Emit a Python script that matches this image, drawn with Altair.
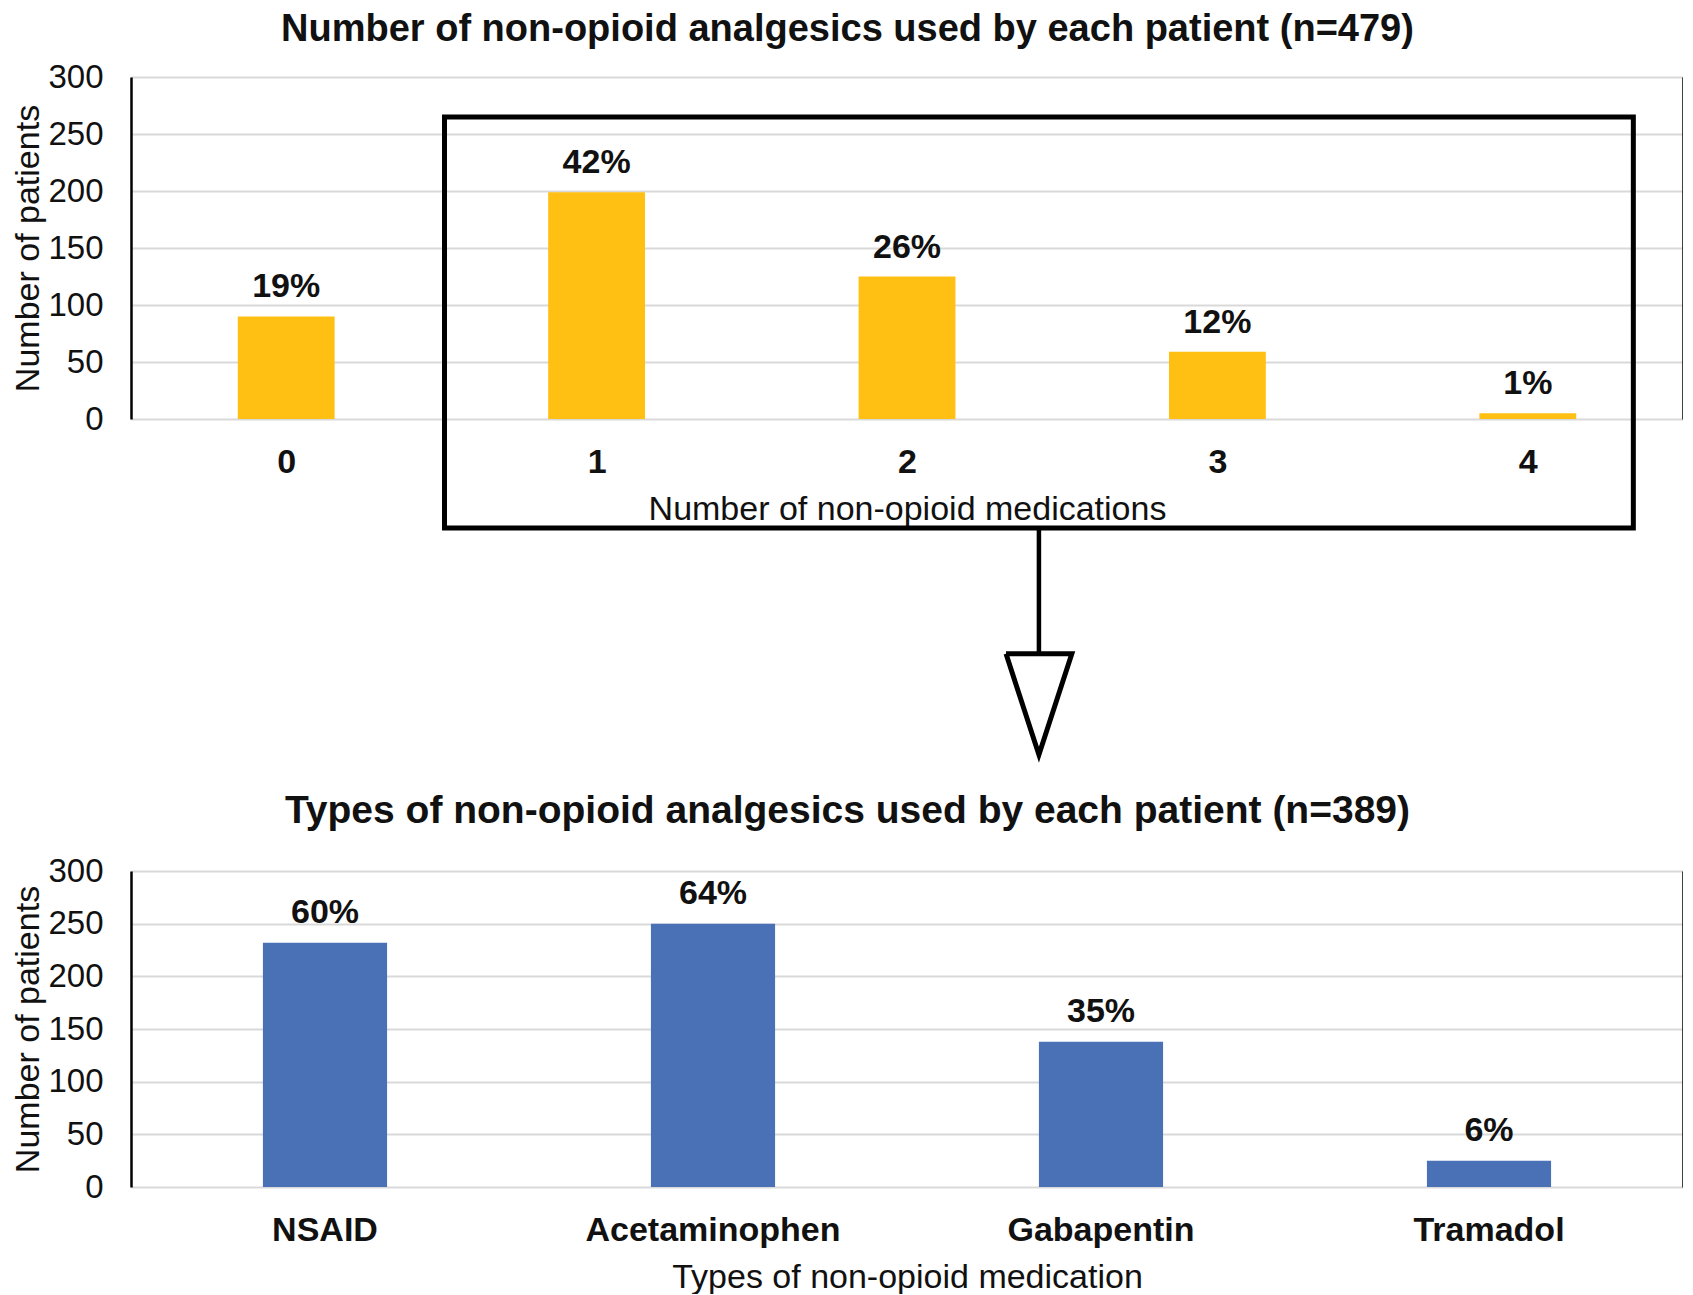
import altair as alt
import pandas as pd

# ---- data ----
top_cats = [0, 1, 2, 3, 4]
top_counts = [90, 199, 125, 59, 5]
top_pcts = ["19%", "42%", "26%", "12%", "1%"]

bottom_cats = ["NSAID", "Acetaminophen", "Gabapentin", "Tramadol"]
bottom_counts = [232, 250, 138, 25]
bottom_pcts = ["60%", "64%", "35%", "6%"]

top_title = "Number of non-opioid analgesics used by each patient (n=479)"
bottom_title = "Types of non-opioid analgesics used by each patient (n=389)"
y_title = "Number of patients"
top_x_title = "Number of non-opioid medications"
bottom_x_title = "Types of non-opioid medication"
y_ticks = [0, 50, 100, 150, 200, 250, 300]

# annotation (in data units of the top chart)
box_x = [0.51]
box_x2 = [4.34]
box_y = [265]
box_y2 = [-95.6]
arrow_x = [2.425, 2.425]
arrow_y = [-95.6, -206]
tri_x = [2.319, 2.531, 2.425, 2.319]
tri_y = [-206, -206, -294.5, -206]
tri_order = [0, 1, 2, 3]

FONT = "Liberation Sans"
W = 1552
TEXT = "#111111"

top_df = pd.DataFrame({"cat": top_cats, "count": top_counts, "pct": top_pcts})
bot_df = pd.DataFrame({"cat": bottom_cats, "count": bottom_counts, "pct": bottom_pcts})

yscale = alt.Scale(domain=[0, 300], nice=False, zero=False)
xscale_top = alt.Scale(domain=[-0.5, 4.5], nice=False, zero=False)

left_axis = alt.Axis(
    values=y_ticks, title=y_title, ticks=False, grid=True,
    gridColor="#d9d9d9", gridWidth=2, domain=True, domainColor="#000000",
    domainWidth=2.5, labelFontSize=33, labelColor=TEXT, labelPadding=28,
    titleFontSize=34, titleFontWeight="normal", titleColor=TEXT, titlePadding=2,
)
right_axis = alt.Axis(
    orient="right", labels=False, ticks=False, grid=False, domain=True,
    domainColor="#000000", domainWidth=2.5, title=None,
)

# ---------------- top chart ----------------
half = 0.156
bars_top = alt.Chart(top_df).transform_calculate(
    x1=f"datum.cat - {half}", x2=f"datum.cat + {half}"
).mark_bar(color="#FFC013").encode(
    x=alt.X("x1:Q", scale=xscale_top, axis=alt.Axis(
        values=top_cats, format="d", title=top_x_title, grid=False, ticks=False,
        domain=False, labelFontSize=34, labelFontWeight="bold", labelColor=TEXT,
        labelPadding=26, titleFontSize=34, titleFontWeight="normal",
        titleColor=TEXT, titlePadding=13, labelLimit=0)),
    x2="x2:Q",
    y=alt.Y("count:Q", scale=yscale, axis=left_axis),
    y2=alt.datum(0),
)
text_top = alt.Chart(top_df).mark_text(
    fontSize=34, fontWeight="bold", color=TEXT, baseline="alphabetic", dy=-19
).encode(
    x=alt.X("cat:Q", scale=xscale_top, axis=None),
    y=alt.Y("count:Q", scale=yscale, axis=right_axis),
    text="pct:N",
)
box = alt.Chart(pd.DataFrame({"x": box_x, "x2": box_x2, "y": box_y, "y2": box_y2})).mark_rect(
    filled=False, stroke="#000000", strokeWidth=5
).encode(
    x=alt.X("x:Q", scale=xscale_top, axis=None), x2="x2:Q",
    y=alt.Y("y:Q", scale=yscale, axis=None), y2="y2:Q",
)
arrow = alt.Chart(pd.DataFrame({"x": arrow_x, "y": arrow_y})).mark_line(
    color="#000000", strokeWidth=4.5
).encode(
    x=alt.X("x:Q", scale=xscale_top, axis=None),
    y=alt.Y("y:Q", scale=yscale, axis=None),
)
tri = alt.Chart(pd.DataFrame({"x": tri_x, "y": tri_y, "o": tri_order})).mark_line(
    color="#000000", strokeWidth=5, strokeJoin="miter"
).encode(
    x=alt.X("x:Q", scale=xscale_top, axis=None),
    y=alt.Y("y:Q", scale=yscale, axis=None),
    order="o:Q",
)
top = alt.layer(bars_top, text_top, box, arrow, tri).resolve_axis(
    x="independent", y="independent"
).properties(
    width=W, height=342,
    title=alt.TitleParams(top_title, fontSize=38, fontWeight="bold", color=TEXT,
                          anchor="middle", frame="bounds", offset=12),
)

# ---------------- bottom chart ----------------
xscale_bot = alt.Scale(paddingInner=0.68, paddingOuter=0.34)
bars_bot = alt.Chart(bot_df).mark_bar(color="#4A71B6").encode(
    x=alt.X("cat:N", sort=bottom_cats, scale=xscale_bot, axis=alt.Axis(
        title=bottom_x_title, grid=False, ticks=False, domain=False, labelAngle=0,
        labelFontSize=34, labelFontWeight="bold", labelColor=TEXT, labelPadding=26,
        labelLimit=0, titleFontSize=34, titleFontWeight="normal", titleColor=TEXT,
        titlePadding=13)),
    y=alt.Y("count:Q", scale=yscale, axis=left_axis),
)
text_bot = alt.Chart(bot_df).mark_text(
    fontSize=34, fontWeight="bold", color=TEXT, baseline="alphabetic", dy=-20
).encode(
    x=alt.X("cat:N", sort=bottom_cats, scale=xscale_bot, axis=None),
    y=alt.Y("count:Q", scale=yscale, axis=right_axis),
    text="pct:N",
)
bottom = alt.layer(bars_bot, text_bot).resolve_axis(
    x="independent", y="independent"
).properties(
    width=W, height=316,
    title=alt.TitleParams(bottom_title, fontSize=39, fontWeight="bold", color=TEXT,
                          anchor="middle", frame="bounds", offset=24),
)

chart = alt.vconcat(top, bottom, spacing=27).properties(
    padding={"left": 3, "top": 3, "right": 0, "bottom": 0}
).configure(font=FONT).configure_view(stroke=None)

chart.save("out.html", embed_options={"renderer": "svg", "actions": False})
